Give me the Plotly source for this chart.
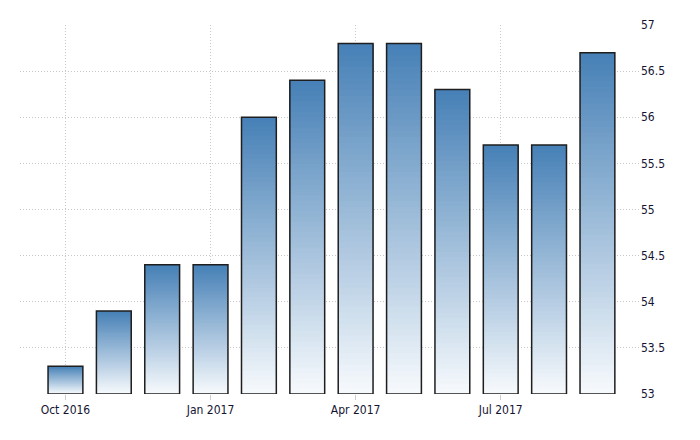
import plotly.graph_objects as go

months = ["Oct 2016", "Nov 2016", "Dec 2016", "Jan 2017", "Feb 2017", "Mar 2017",
          "Apr 2017", "May 2017", "Jun 2017", "Jul 2017", "Aug 2017", "Sep 2017"]
values = [53.3, 53.9, 54.4, 54.4, 56.0, 56.4, 56.8, 56.8, 56.3, 55.7, 55.7, 56.7]
tick_idx = [0, 3, 6, 9]
y_ticks = [53, 53.5, 54, 54.5, 55, 55.5, 56, 56.5, 57]
y_base = 53

x = list(range(len(months)))
top_rgb = (70, 128, 182)
bot_rgb = (247, 250, 253)
N = 60
bar_w = 0.72

fig = go.Figure()
for k in range(N):
    t = (k + 0.5) / N
    c = tuple(round(bot_rgb[i] + (top_rgb[i] - bot_rgb[i]) * t) for i in range(3))
    seg = [(v - y_base) / N for v in values]
    fig.add_trace(go.Bar(
        x=x, y=[s * (N - k) for s in seg], base=[y_base + s * k for s in seg], width=bar_w,
        marker=dict(color="rgb(%d,%d,%d)" % c, line=dict(width=0)),
        hoverinfo="skip", showlegend=False,
    ))
fig.add_trace(go.Bar(
    x=x, y=[v - y_base for v in values], base=[y_base] * len(values), width=bar_w,
    marker=dict(color="rgba(0,0,0,0)", line=dict(color="#1e1e1e", width=1.5)),
    customdata=values, hovertext=months, hovertemplate="%{hovertext}: %{customdata}<extra></extra>",
    showlegend=False,
))

font = dict(family="DejaVu Sans Condensed, Liberation Sans Narrow, Arial", size=12, color="#141432")
fig.update_layout(
    width=692, height=432, barmode="overlay",
    margin=dict(l=12, r=60, t=17, b=46),
    plot_bgcolor="white", paper_bgcolor="white",
    font=font,
    xaxis=dict(range=[-0.94, 11.88], tickvals=tick_idx, ticktext=[months[i] for i in tick_idx],
               showgrid=True, gridcolor="#c8c8c8", griddash="1px,2px", gridwidth=1,
               ticks="outside", ticklen=5, tickcolor="#cccccc", zeroline=False, showline=False,
               automargin=False),
    yaxis=dict(range=[53, 57], side="right", tickvals=y_ticks, showgrid=True,
               gridcolor="#c8c8c8", griddash="1px,2px", gridwidth=1, zeroline=False, showline=False,
               ticks="", automargin=False, ticklabelstandoff=0),
)
fig.write_html("out.html")
